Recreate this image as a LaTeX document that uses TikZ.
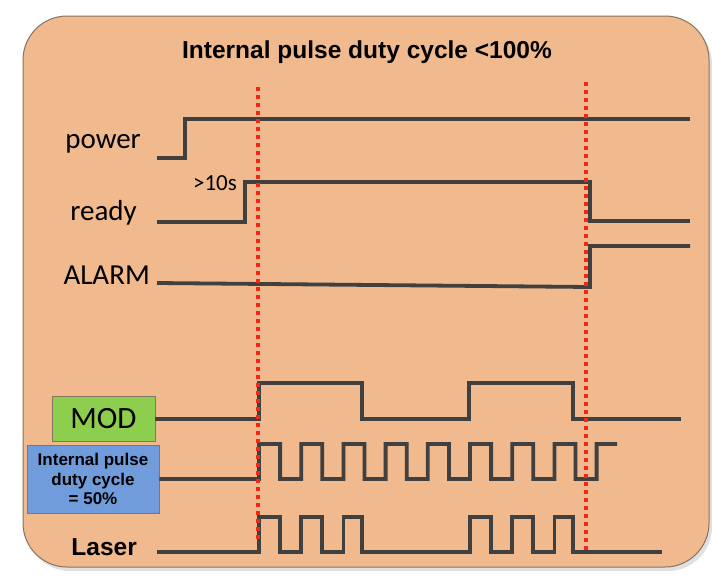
\documentclass[tikz,border=0pt]{standalone}
\usepackage{fontspec}
\setmainfont{Carlito}
\newfontfamily\arialfont{Liberation Sans}
\usetikzlibrary{positioning}
\definecolor{peach}{RGB}{240,186,142}
\definecolor{frameline}{RGB}{135,115,95}
\definecolor{wave}{RGB}{64,64,64}
\definecolor{marker}{RGB}{240,40,20}
\definecolor{modgreen}{RGB}{142,206,78}
\definecolor{pulseblue}{RGB}{112,156,220}

\begin{document}
\begin{tikzpicture}[x=1pt,y=-1pt,
  sig/.style={line width=3.8pt,wave,line join=miter},
  cutline/.style={line width=3.2pt,marker,dash pattern=on 4pt off 4pt},
  lbl/.style={font=\fontsize{29}{34}\selectfont,anchor=east,inner sep=0pt},
  tag/.style={draw=frameline,line width=0.8pt,inner sep=2pt}]
  \useasboundingbox (0,0) rectangle (712,579);
  \fill[white] (0,0) rectangle (712,579);
  % panel
  \fill[black!12,rounded corners=44pt] (26,20) rectangle (712,571);
  \draw[frameline,fill=peach,line width=1pt,rounded corners=44pt] (23,16) rectangle (709,567);
  \node[font=\arialfont\bfseries\fontsize{24.5}{28}\selectfont] (title) at (367,52) {Internal pulse duty cycle <100\%};
  % signal names
  \node[lbl] (power) at (141,144) {power};
  \node[lbl] (ready) at (137,213) {ready};
  \node[lbl] (alarm) at (150,275) {ALARM};
  \node[font=\fontsize{23}{26}\selectfont] (delay) at (215,183) {>10s};
  \node[lbl,font=\arialfont\bfseries\fontsize{24.5}{28}\selectfont] (laser) at (137,547) {Laser};
  \node[tag,fill=modgreen,minimum width=103pt,minimum height=45pt,font=\fontsize{31}{34}\selectfont] (mod) at (103.5,419) {MOD};
  \node[tag,fill=pulseblue,minimum width=132pt,minimum height=68pt,align=center,
        font=\arialfont\bfseries\fontsize{17}{19.5}\selectfont] (pulse) at (93,479) {Internal pulse\\duty cycle\\= 50\%};
  % waveforms
  \draw[sig] (157,158) -- (185,158) -- (185,119) -- (690,119);
  \draw[sig] (157,222) -- (245,222) -- (245,182) -- (590,182) -- (590,221) -- (690,221);
  \draw[sig] (157,283) -- (590,287) -- (590,246) -- (690,246);
  \draw[sig] (mod.east) -- (259,419) -- (259,383) -- (362,383) -- (362,419)
     -- (469,419) -- (469,383) -- (573,383) -- (573,419) -- (681,419);
  \draw[sig] (pulse.east) -- (259,479)
     foreach \k in {0,...,7}{ -- ({259+42.2*\k},444) -- ({280.1+42.2*\k},444)
                              -- ({280.1+42.2*\k},479) -- ({301.2+42.2*\k},479)}
     -- (596.6,444) -- (617,444);
  \draw[sig] (157,552)
     foreach \a/\b in {259/280.1,301.2/322.3,343.4/362,470/491.1,512.2/533.3,554.4/573}
        { -- (\a,552) -- (\a,517) -- (\b,517) -- (\b,552)} -- (662,552);
  % markers
  \draw[cutline] (258,87) -- (258,543);
  \draw[cutline] (586,82) -- (586,553);
\end{tikzpicture}
\end{document}
